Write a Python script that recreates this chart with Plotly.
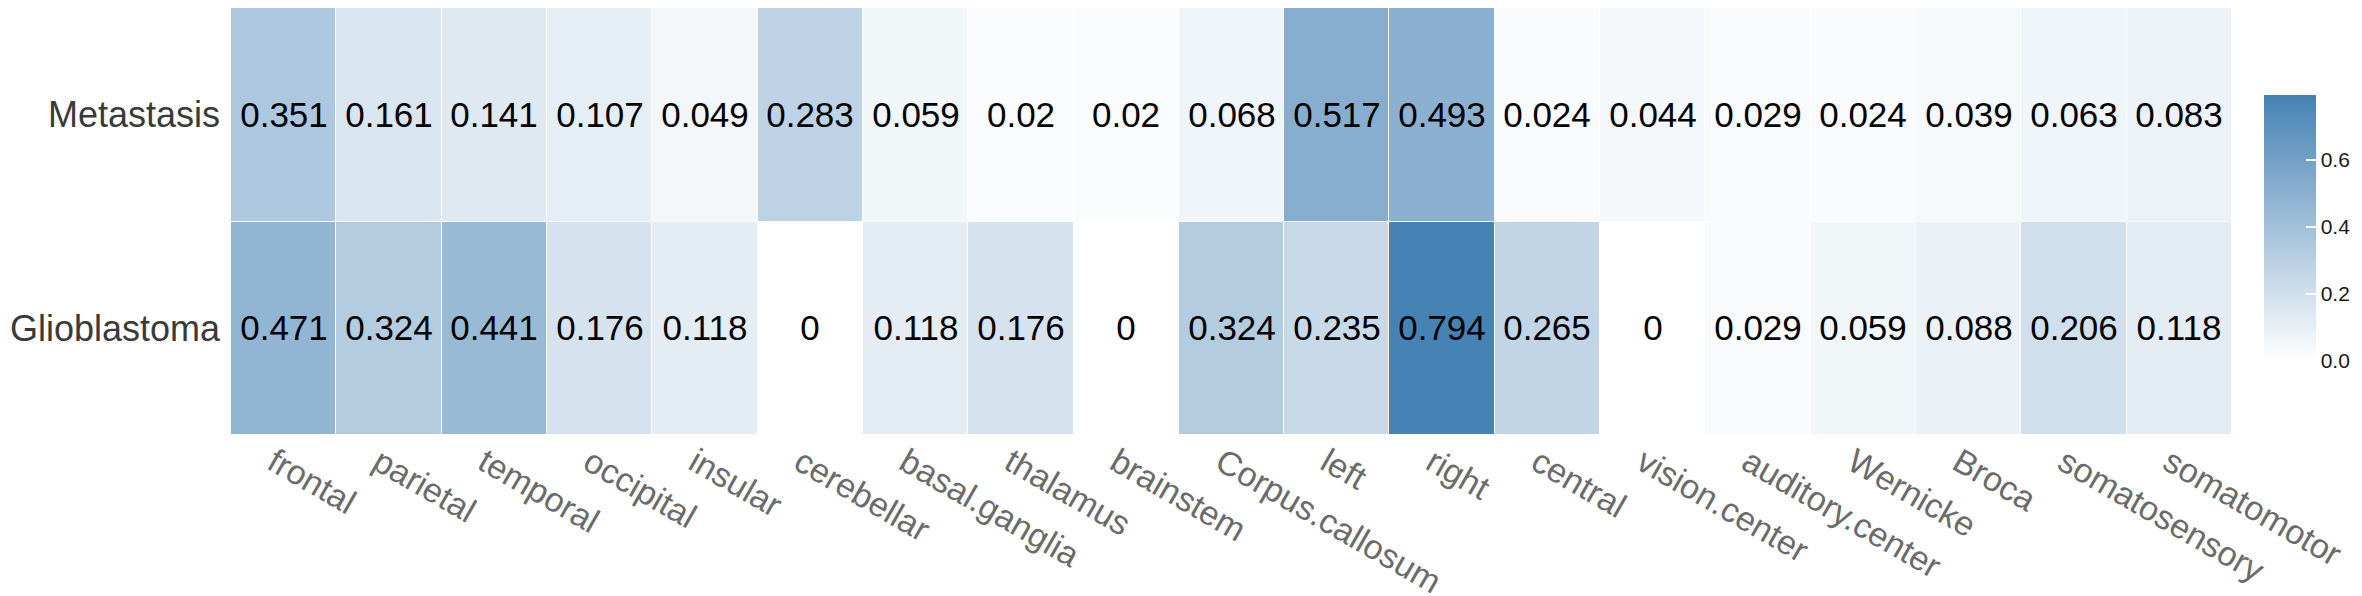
import plotly.graph_objects as go

regions = ["frontal", "parietal", "temporal", "occipital", "insular", "cerebellar",
           "basal.ganglia", "thalamus", "brainstem", "Corpus.callosum", "left", "right",
           "central", "vision.center", "auditory.center", "Wernicke", "Broca",
           "somatosensory", "somatomotor"]
groups = ["Glioblastoma", "Metastasis"]
metastasis = [0.351, 0.161, 0.141, 0.107, 0.049, 0.283, 0.059, 0.02, 0.02, 0.068,
              0.517, 0.493, 0.024, 0.044, 0.029, 0.024, 0.039, 0.063, 0.083]
glioblastoma = [0.471, 0.324, 0.441, 0.176, 0.118, 0, 0.118, 0.176, 0, 0.324,
                0.235, 0.794, 0.265, 0, 0.029, 0.059, 0.088, 0.206, 0.118]
cbar_ticks = [0.0, 0.2, 0.4, 0.6]

z = [glioblastoma, metastasis]
text = [[f"{v:g}" for v in row] for row in z]
zmax = max(max(r) for r in z)

fig = go.Figure(go.Heatmap(
    x=regions, y=groups, z=z, text=text, texttemplate="%{text}",
    textfont=dict(family="Liberation Sans, Arial", size=35, color="black"),
    colorscale=[[0, "#FFFFFF"], [1, "#4682B4"]], zmin=0, zmax=zmax,
    xgap=1, ygap=1, hoverinfo="skip",
    colorbar=dict(
        x=1.016, xanchor="left", y=0.485, yanchor="middle",
        thickness=52, len=266, lenmode="pixels", xpad=0, ypad=0,
        outlinewidth=0, tickvals=cbar_ticks, ticktext=[f"{t:.1f}" for t in cbar_ticks],
        ticks="inside", ticklen=10, tickcolor="white", tickwidth=1.5,
        tickfont=dict(family="Liberation Sans, Arial", size=21, color="#1a1a1a"),
    ),
))

fig.update_layout(
    width=2362, height=596,
    margin=dict(l=223, r=138, t=0, b=169),
    paper_bgcolor="white", plot_bgcolor="white",
    font=dict(family="Liberation Sans, Arial"),
)
fig.update_xaxes(tickangle=30, showgrid=False, zeroline=False, showline=False, ticks="",
                 automargin=False, ticklabelshift=-10,
                 tickfont=dict(size=34, color="#6b6b6b"))
fig.update_yaxes(showgrid=False, zeroline=False, showline=False, ticks="",
                 automargin=False, tickfont=dict(size=36, color="#3a3a3a"),
                 ticklabelstandoff=10)

fig.write_html("out.html")
